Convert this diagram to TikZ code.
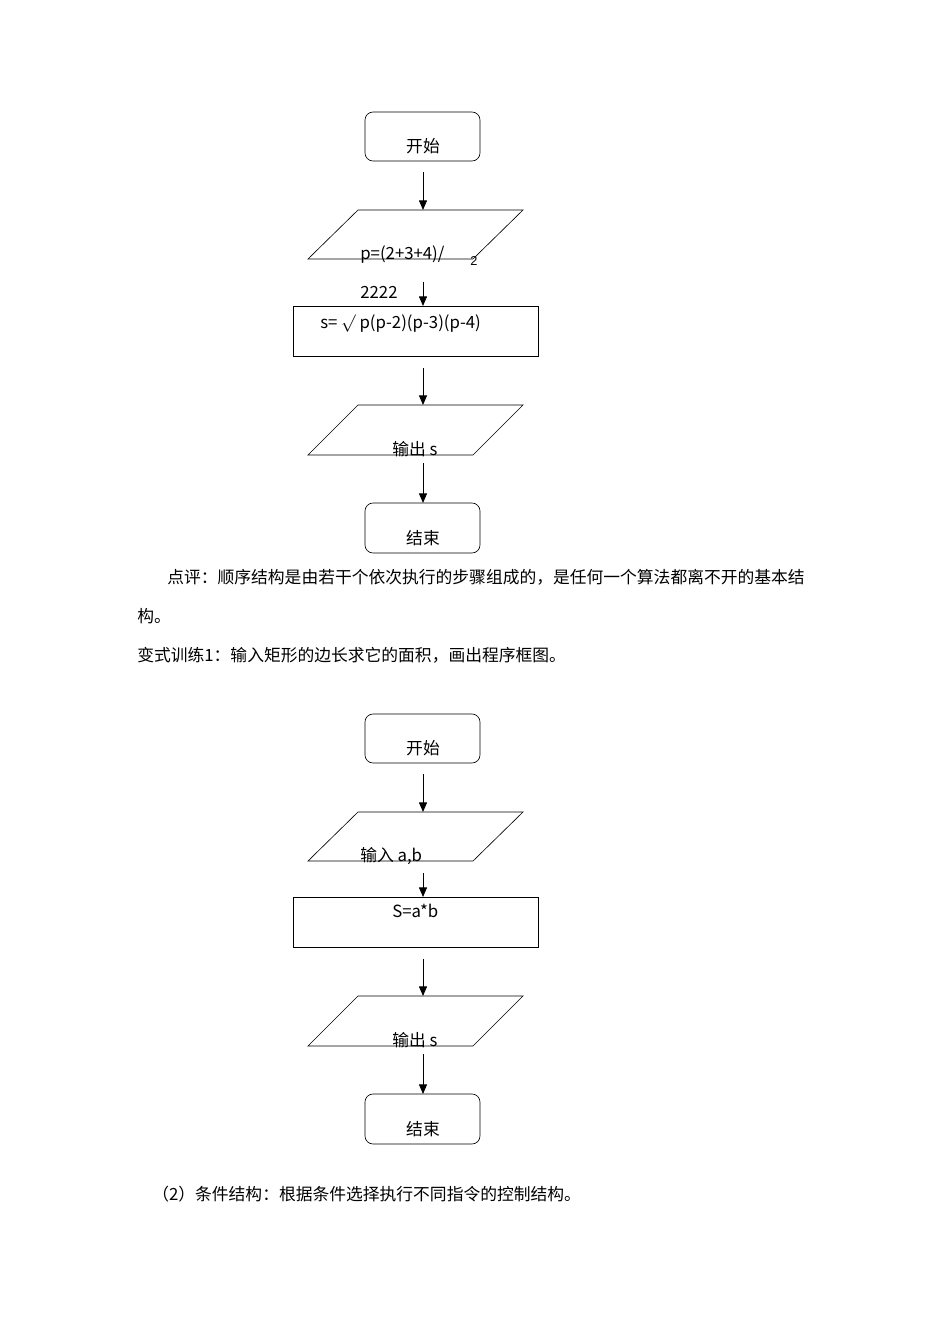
\documentclass[tikz,border=0pt]{standalone}
\usepackage{fontspec}
\setmainfont{Liberation Sans}
\newfontfamily\cjk{Noto Sans CJK SC}
\usetikzlibrary{arrows.meta}
\begin{document}
\begin{tikzpicture}[x=0.626pt,y=-0.626pt,
  every node/.style={font=\fontsize{10.5}{12}\selectfont\cjk, inner sep=0pt},
  term/.style={draw, rounded corners=5pt},
  box/.style={draw},
  arr/.style={-{Triangle[length=6pt,width=5pt]}, line width=0.6pt},
  lbl/.style={anchor=base},
  txt/.style={anchor=base west}]
\useasboundingbox (0,0) rectangle (950,1344);
\foreach \o/\q/\n in {0/0/a,602/591/b}{
  \draw[term] (365,112+\o) rectangle (480,161+\o);
  \node[lbl] (s\n) at (423,152+\o) {开始};
  \coordinate (a1\n) at (423,172+\o); \coordinate (a1e\n) at (423,210+\o);
  \draw[arr] (a1\n) -- (a1e\n);
  \draw (358,210+\o) -- (523,210+\o) -- (473,259+\o) -- (308,259+\o) -- cycle;
  \coordinate (a2\n) at (423,282+\q); \coordinate (a2e\n) at (423,306+\q);
  \draw[arr] (a2\n) -- (a2e\n);
  \draw[box] (293,306+\q) rectangle (538,356+\q);
  \coordinate (a3\n) at (423,368+\q); \coordinate (a3e\n) at (423,405+\q);
  \draw[arr] (a3\n) -- (a3e\n);
  \draw (358,405+\q) -- (523,405+\q) -- (473,455+\q) -- (308,455+\q) -- cycle;
  \node[txt] (o\n) at (392,455+\q) {输出 s};
  \coordinate (a4\n) at (423,463+\q); \coordinate (a4e\n) at (423,503+\q);
  \draw[arr] (a4\n) -- (a4e\n);
  \draw[term] (365,503+\q) rectangle (480,553+\q);
  \node[lbl] (e\n) at (423,544+\q) {结束};
}
\node[txt] (p1) at (360,259) {p=(2+3+4)/};
\node[txt,font=\fontsize{8}{9}\selectfont] (p2) at (470,265) {2};
\node[txt] (p3) at (360,298) {2222};
\node[txt] (sf) at (320,328) {s= \(\surd\) p(p-2)(p-3)(p-4)};
\node[txt] (in) at (360,861) {输入 a,b};
\node[txt] (ab) at (392,917) {S=a*b};
\node[txt] (t1) at (167,583) {点评：顺序结构是由若干个依次执行的步骤组成的，是任何一个算法都离不开的基本结};
\node[txt] (t2) at (137,622) {构。};
\node[txt] (t3) at (137,661) {变式训练1：输入矩形的边长求它的面积，画出程序框图。};
\node[txt] (t4) at (152,1200) {（2）条件结构：根据条件选择执行不同指令的控制结构。};
\end{tikzpicture}
\end{document}
